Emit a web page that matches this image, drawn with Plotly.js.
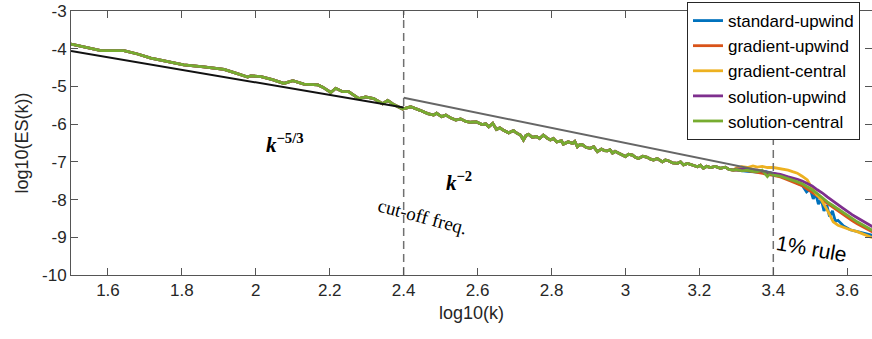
<!DOCTYPE html>
<html>
<head>
<meta charset="utf-8">
<script src="https://cdn.plot.ly/plotly-3.0.1.min.js"></script>
<style>html,body{margin:0;padding:0;background:#fff;}#chart{width:872px;height:339px;}</style>
</head>
<body>
<div id="chart"></div>
<script>
// ---- data ----
const seriesNames = ["standard-upwind", "gradient-upwind", "gradient-central", "solution-upwind", "solution-central"];
const seriesColors = ["#0072BD", "#D95319", "#EDB120", "#7E2F8E", "#77AC30"];

// shared part of the spectra (all schemes overlap here), log10(k) vs log10(ES(k))
const xLow = [1.500,1.540,1.581,1.643,1.680,1.716,1.760,1.805,1.859,1.914,1.950,1.978,1.986,2.014,2.045,2.076,2.100,2.130,2.168,2.181,2.203,2.216,2.235,2.251,2.278,2.297,2.319,2.343,2.357,2.373,2.397,2.419,2.446,2.465,2.481,2.489,2.503,2.514,2.528,2.541,2.554,2.568,2.581,2.597,2.612,2.622,2.630,2.641,2.651,2.660,2.670,2.684,2.697,2.706,2.716,2.724,2.731,2.738,2.748,2.759,2.768,2.778,2.788,2.797,2.805,2.814,2.827,2.832,2.845,2.857,2.863,2.870,2.877,2.884,2.894,2.905,2.914,2.924,2.935,2.943,2.951,2.958,2.965,2.972,2.978,2.989,3.000,3.008,3.019,3.027,3.035,3.047,3.059,3.068,3.076,3.086,3.100,3.108,3.116,3.128,3.141,3.149,3.157,3.168,3.176,3.186,3.195,3.203,3.211,3.220,3.230,3.243,3.257,3.270,3.280,3.292];
const yLow = [-3.88,-3.97,-4.05,-4.05,-4.14,-4.25,-4.34,-4.43,-4.48,-4.55,-4.66,-4.75,-4.72,-4.74,-4.82,-4.92,-4.85,-4.94,-4.96,-5.02,-5.16,-5.05,-5.14,-5.14,-5.32,-5.28,-5.32,-5.46,-5.37,-5.48,-5.60,-5.54,-5.64,-5.72,-5.76,-5.71,-5.80,-5.76,-5.84,-5.89,-5.86,-5.93,-5.95,-5.94,-6.01,-5.99,-6.07,-5.98,-6.14,-6.10,-6.16,-6.23,-6.17,-6.24,-6.29,-6.42,-6.30,-6.27,-6.35,-6.33,-6.38,-6.29,-6.37,-6.42,-6.38,-6.47,-6.44,-6.53,-6.47,-6.51,-6.46,-6.60,-6.54,-6.55,-6.62,-6.64,-6.60,-6.73,-6.66,-6.70,-6.71,-6.68,-6.77,-6.72,-6.75,-6.80,-6.86,-6.80,-6.82,-6.88,-6.91,-6.85,-6.88,-6.93,-6.95,-6.91,-7.00,-6.95,-6.97,-7.03,-7.04,-7.00,-7.08,-7.04,-7.07,-7.10,-7.13,-7.09,-7.17,-7.12,-7.15,-7.12,-7.17,-7.14,-7.20,-7.22];

// high-wavenumber tails, one per scheme
const stdUpX = [3.300,3.330,3.357,3.380,3.400,3.420,3.438,3.450,3.465,3.478,3.490,3.500,3.508,3.515,3.522,3.530,3.537,3.545,3.552,3.560,3.568,3.575,3.590,3.608,3.630,3.654,3.676];
const stdUpY = [-7.22,-7.25,-7.27,-7.26,-7.30,-7.36,-7.40,-7.47,-7.57,-7.62,-7.80,-7.72,-7.98,-7.85,-8.12,-8.00,-8.30,-8.15,-8.45,-8.30,-8.58,-8.55,-8.70,-8.80,-8.86,-8.93,-8.97];
const gradUpX = [3.300,3.330,3.357,3.384,3.400,3.419,3.438,3.452,3.465,3.478,3.492,3.505,3.519,3.532,3.546,3.560,3.573,3.587,3.600,3.613,3.627,3.640,3.654,3.667,3.676];
const gradUpY = [-7.21,-7.23,-7.27,-7.33,-7.36,-7.40,-7.47,-7.52,-7.57,-7.63,-7.72,-7.80,-7.90,-8.00,-8.10,-8.20,-8.29,-8.38,-8.47,-8.56,-8.64,-8.71,-8.78,-8.84,-8.90];
const gradCenX = [3.300,3.315,3.330,3.345,3.357,3.370,3.384,3.400,3.413,3.427,3.440,3.452,3.465,3.478,3.492,3.500,3.508,3.518,3.527,3.537,3.546,3.555,3.562,3.575,3.589,3.608,3.627,3.645,3.662,3.676];
const gradCenY = [-7.16,-7.13,-7.15,-7.11,-7.14,-7.12,-7.15,-7.15,-7.17,-7.19,-7.22,-7.26,-7.30,-7.38,-7.48,-7.62,-7.75,-7.88,-7.96,-8.12,-8.28,-8.45,-8.59,-8.68,-8.74,-8.80,-8.85,-8.92,-8.99,-9.02];
const solUpX = [3.300,3.330,3.357,3.384,3.400,3.419,3.438,3.452,3.465,3.478,3.492,3.505,3.519,3.532,3.546,3.560,3.573,3.587,3.600,3.613,3.627,3.640,3.654,3.667,3.676];
const solUpY = [-7.19,-7.20,-7.22,-7.28,-7.30,-7.33,-7.39,-7.42,-7.46,-7.51,-7.57,-7.64,-7.74,-7.82,-7.93,-8.02,-8.12,-8.22,-8.32,-8.40,-8.48,-8.55,-8.62,-8.70,-8.76];
const solCenX = [3.300,3.315,3.330,3.345,3.357,3.370,3.384,3.392,3.400,3.419,3.438,3.450,3.465,3.478,3.492,3.505,3.519,3.532,3.546,3.560,3.573,3.587,3.600,3.613,3.627,3.640,3.654,3.667,3.676];
const solCenY = [-7.20,-7.24,-7.22,-7.25,-7.26,-7.22,-7.39,-7.30,-7.35,-7.38,-7.44,-7.47,-7.53,-7.58,-7.66,-7.74,-7.84,-7.95,-8.06,-8.15,-8.23,-8.32,-8.41,-8.50,-8.59,-8.66,-8.74,-8.80,-8.86];

// reference slopes and markers
const slope53X = [1.5, 2.4];   const slope53Y = [-4.06, -5.56];
const slope2X  = [2.4, 3.4];   const slope2Y  = [-5.30, -7.30];
const cutoffX = 2.4; const ruleX = 3.4;

const xTickVals = [1.6,1.8,2.0,2.2,2.4,2.6,2.8,3.0,3.2,3.4,3.6];
const xTickText = ["1.6","1.8","2","2.2","2.4","2.6","2.8","3","3.2","3.4","3.6"];
const yTickVals = [-10,-9,-8,-7,-6,-5,-4,-3];
const yTickText = ["-10","-9","-8","-7","-6","-5","-4","-3"];

// ---- build traces ----
const tails = [[stdUpX,stdUpY],[gradUpX,gradUpY],[gradCenX,gradCenY],[solUpX,solUpY],[solCenX,solCenY]];
const traces = tails.map((t, i) => ({
  type: "scatter", mode: "lines", name: seriesNames[i],
  x: xLow.concat(t[0]), y: yLow.concat(t[1]),
  line: {color: seriesColors[i], width: 2.8}
}));
const ref = (x, y, color, width, dash) => ({type:"scatter", mode:"lines", x, y, showlegend:false, hoverinfo:"skip",
  line:{color, width, dash: dash || "solid"}});
traces.push(ref(slope53X, slope53Y, "#111111", 2));
traces.push(ref(slope2X, slope2Y, "#666666", 2));
traces.push(ref([cutoffX, cutoffX], [-10, -3], "#707070", 1.5, "8px,5px"));
traces.push(ref([ruleX, ruleX], [-10, -3], "#707070", 1.5, "8px,5px"));

const sans = "Liberation Sans, Arial, Helvetica, sans-serif";
const serif = "Liberation Serif, Times New Roman, serif";
const axisCommon = {showline: true, linecolor: "#555", linewidth: 1, mirror: "ticks", ticks: "inside", ticklen: 7,
  tickcolor: "#555", showgrid: false, zeroline: false, tickfont: {family: sans, size: 17, color: "#262626"}};

const layout = {
  width: 872, height: 339,
  margin: {l: 71, r: 0, t: 11, b: 64},
  paper_bgcolor: "#fff", plot_bgcolor: "#fff",
  font: {family: sans, color: "#262626"},
  xaxis: Object.assign({}, axisCommon, {range: [1.5, 3.667], tickvals: xTickVals, ticktext: xTickText,
    title: {text: "log10(k)", font: {family: sans, size: 18, color: "#262626"}, standoff: 6}}),
  yaxis: Object.assign({}, axisCommon, {range: [-10, -3], tickvals: yTickVals, ticktext: yTickText,
    title: {text: "log10(ES(k))", font: {family: sans, size: 18, color: "#262626"}, standoff: 8}}),
  legend: {x: 0.985, xanchor: "right", y: 1.034, yanchor: "top", bgcolor: "#fff", bordercolor: "#262626",
    borderwidth: 1, font: {family: sans, size: 17, color: "#000"}, tracegroupgap: 0, itemwidth: 30},
  showlegend: true,
  annotations: [
    {x: 2.078, y: -6.5, xref: "x", yref: "y", showarrow: false, text: "<b><i>k</i></b><sup><b>−5/3</b></sup>",
     font: {family: serif, size: 21, color: "#000"}},
    {x: 2.551, y: -7.51, xref: "x", yref: "y", showarrow: false, text: "<b><i>k</i></b><sup><b>−2</b></sup>",
     font: {family: serif, size: 21, color: "#000"}},
    {x: 2.451, y: -8.44, xref: "x", yref: "y", showarrow: false, text: "cut-off freq.", textangle: 15,
     font: {family: serif, size: 19, color: "#000"}},
    {x: 3.503, y: -9.29, xref: "x", yref: "y", showarrow: false, text: "1% rule", textangle: 10,
     font: {family: sans, size: 21, color: "#000"}}
  ]
};
Plotly.newPlot("chart", traces, layout, {displayModeBar: false, staticPlot: true});
</script>
</body>
</html>
